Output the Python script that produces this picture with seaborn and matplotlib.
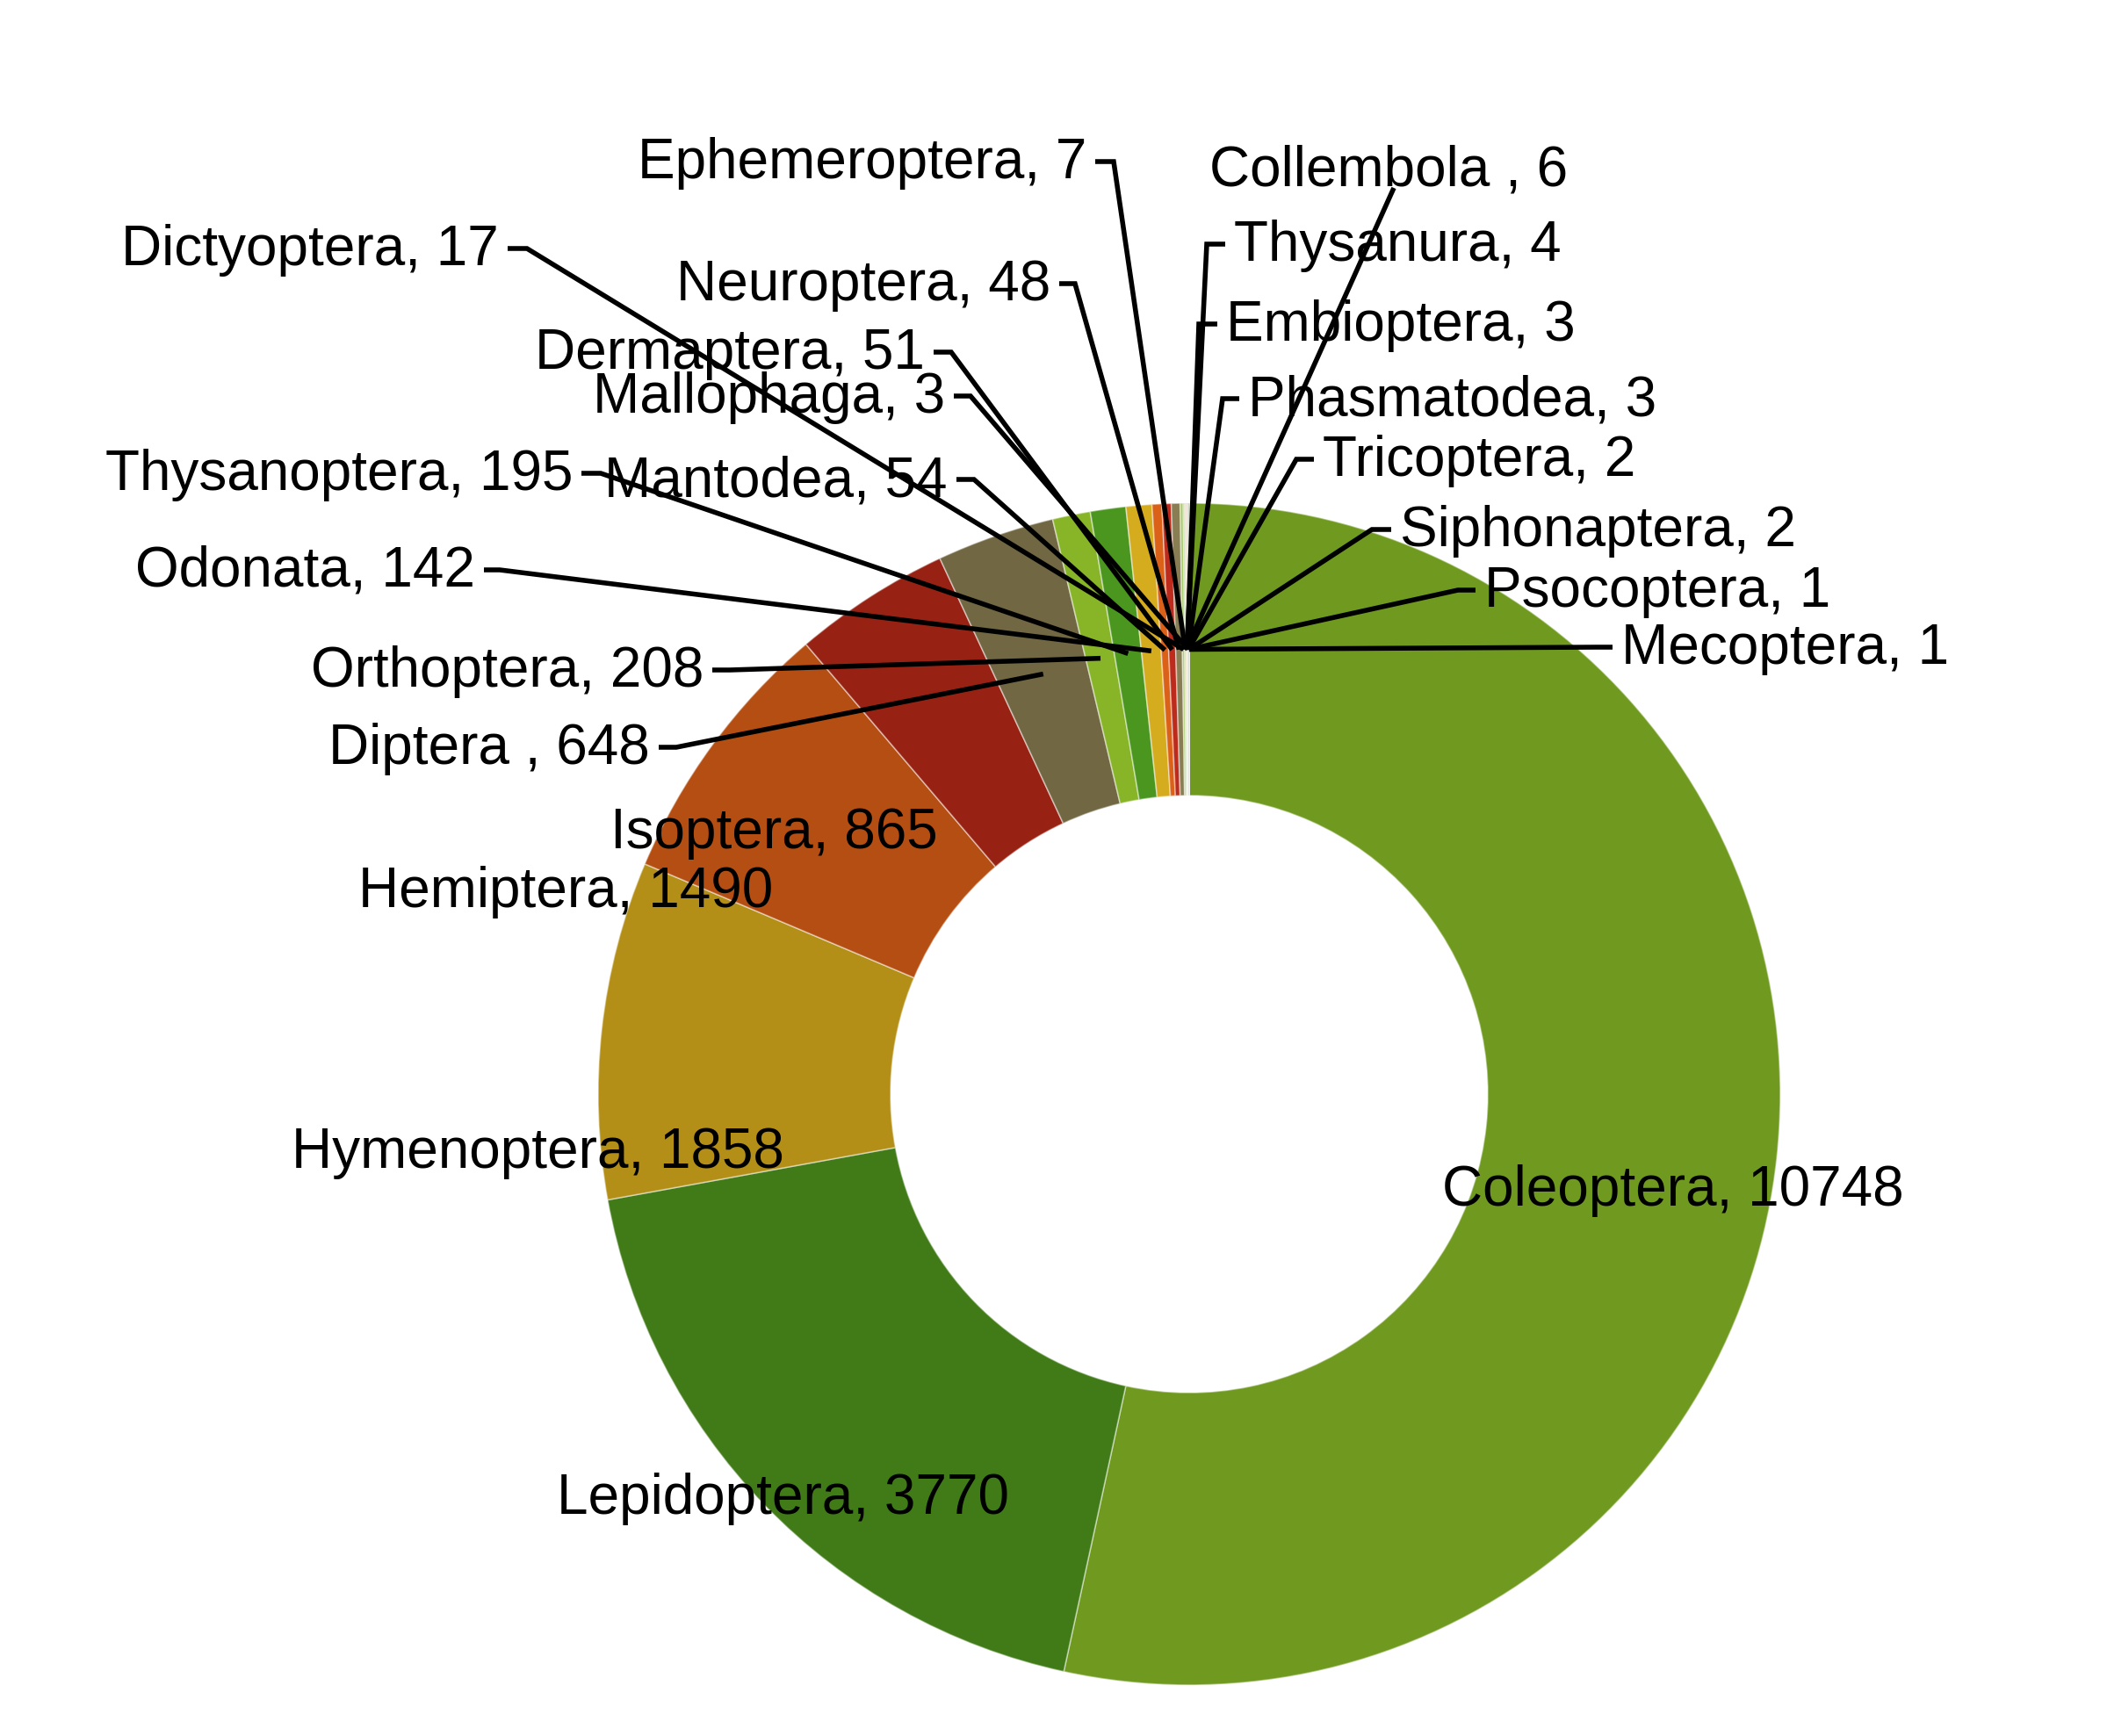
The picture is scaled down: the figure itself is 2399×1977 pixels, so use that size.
import numpy as np
import matplotlib.pyplot as plt
import seaborn as sns

# ----------------------------------------------------------
# data
# ----------------------------------------------------------
orders = ['Coleoptera', 'Lepidoptera', 'Hymenoptera', 'Hemiptera', 'Isoptera', 'Diptera ',
          'Orthoptera', 'Thysanoptera', 'Odonata', 'Mantodea', 'Dermaptera', 'Neuroptera',
          'Dictyoptera', 'Ephemeroptera', 'Collembola ', 'Thysanura', 'Embioptera', 'Mallophaga',
          'Phasmatodea', 'Tricoptera', 'Siphonaptera', 'Psocoptera', 'Mecoptera']
counts = [10748, 3770, 1858, 1490, 865, 648, 208, 195, 142, 54, 51, 48,
          17, 7, 6, 4, 3, 3, 3, 2, 2, 1, 1]
colors = ['#6f9a1f', '#417b18', '#b38f17', '#b54e12', '#972213', '#716743',
          '#87b527', '#4b961e', '#d6ac1f', '#dc6118', '#bc2b1b', '#897e53',
          '#a9cc6b', '#8fbf6a', '#e5c46b', '#e5946b', '#d9776b', '#b0a888',
          '#587a16', '#315c12', '#866b11', '#883b0e', '#71190e']

# ----------------------------------------------------------
# layout (pixel coordinates, y downward)
# ----------------------------------------------------------
W, H = 2399, 1977
cx, cy = 1354, 1246
r_out, r_in = 673, 340

# labels inside the ring: name -> centre
inner_pos = {'Coleoptera': (1905, 1356), 'Lepidoptera': (892, 1707),
             'Hymenoptera': (612, 1313), 'Hemiptera': (644, 1016),
             'Isoptera': (881, 949)}
# labels with leader lines: name -> (stub x far, stub x near, y)
left_pos = {'Ephemeroptera': (1247, 1268, 184), 'Dictyoptera': (578, 600, 283),
            'Neuroptera': (1206, 1224, 323), 'Dermaptera': (1063, 1083, 401),
            'Mallophaga': (1086, 1105, 451), 'Thysanoptera': (662, 684, 539),
            'Mantodea': (1089, 1109, 546), 'Odonata': (551, 569, 649),
            'Orthoptera': (811, 831, 763), 'Diptera ': (750, 770, 851)}
right_pos = {'Thysanura': (1395, 1374, 278), 'Embioptera': (1386, 1365, 369),
             'Phasmatodea': (1411, 1392, 454), 'Tricoptera': (1496, 1476, 523),
             'Siphonaptera': (1584, 1562, 603), 'Psocoptera': (1680, 1660, 672),
             'Mecoptera': (1836, 1818, 737)}
top_pos = {'Collembola ': (1377, 194, 1587, 214)}

sns.set_theme(style='white')
plt.rcParams['font.family'] = ['Liberation Sans', 'DejaVu Sans']
plt.rcParams['text.color'] = 'black'
fs = 23

fig = plt.figure(figsize=(W / 200, H / 200), dpi=200)
ax = fig.add_axes([0, 0, 1, 1])


def Y(y):
    return H - y


ax.pie(counts, colors=colors, startangle=90, counterclock=False,
       center=(cx, Y(cy)), radius=r_out,
       wedgeprops=dict(width=r_out - r_in, edgecolor=(1, 1, 1, 0.45), linewidth=0.6))

total = float(np.sum(counts))
cum = np.cumsum(counts) - np.array(counts) / 2.0
mids = cum / total * 2 * np.pi
r_mid = (r_out + r_in) / 2.0

for name, val, t in zip(orders, counts, mids):
    px = cx + r_mid * np.sin(t)
    py = cy - r_mid * np.cos(t)
    label = f'{name}, {val}'
    key = name
    if key in inner_pos:
        x, y = inner_pos[key]
        ax.text(x, Y(y), label, ha='center', va='center', fontsize=fs, color='black')
    elif key in left_pos:
        x0, x1, y = left_pos[key]
        ax.plot([x0, x1, px], [Y(y), Y(y), Y(py)], color='black', lw=2.0,
                solid_capstyle='butt', solid_joinstyle='miter')
        ax.text(x0 - 10, Y(y) - 2, label, ha='right', va='center', fontsize=fs, color='black')
    elif key in right_pos:
        x0, x1, y = right_pos[key]
        ax.plot([x0, x1, px], [Y(y), Y(y), Y(py)], color='black', lw=2.0,
                solid_capstyle='butt', solid_joinstyle='miter')
        ax.text(x0 + 10, Y(y) - 2, label, ha='left', va='center', fontsize=fs, color='black')
    elif key in top_pos:
        tx, ty, lx, ly = top_pos[key]
        ax.plot([lx, px], [Y(ly), Y(py)], color='black', lw=2.0, solid_capstyle='butt')
        ax.text(tx, Y(ty), label, ha='left', va='center', fontsize=fs, color='black')

ax.set_xlim(0, W)
ax.set_ylim(0, H)
ax.set_aspect('equal')
ax.axis('off')
fig.savefig('out.png', dpi=200, facecolor='white')
